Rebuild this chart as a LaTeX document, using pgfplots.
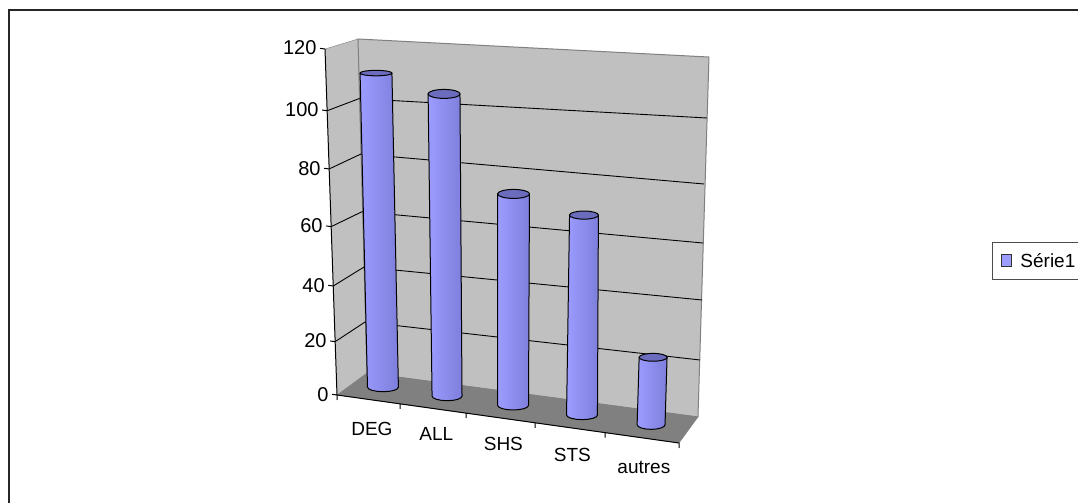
\documentclass[border=0pt]{standalone}
\usepackage{fontspec}
\setmainfont{Liberation Sans}
\usepackage{pgfplots}
\pgfplotsset{compat=1.18}

\definecolor{wall}{HTML}{C0C0C0}
\definecolor{floorc}{HTML}{808080}
\definecolor{barL}{HTML}{9C9CFF}
\definecolor{barM}{HTML}{9090F2}
\definecolor{barR}{HTML}{7E7EDC}
\definecolor{capc}{HTML}{6C6CBE}

\def\capratio{0.28}
\pgfdeclareplotmark{cap}{%
  \pgfpathellipse{\pgfpointorigin}{\pgfqpoint{\pgfplotmarksize}{0pt}}{\pgfqpoint{0pt}{\capratio\pgfplotmarksize}}%
  \pgfusepathqfillstroke}
\pgfdeclareplotmark{flatcap}{%
  \pgfpathellipse{\pgfpointorigin}{\pgfqpoint{\pgfplotmarksize}{0pt}}{\pgfqpoint{0pt}{0.17\pgfplotmarksize}}%
  \pgfusepathqfillstroke}

% base x, top x, half width base, half width top, value, cap half width (px), cap mark
\newcommand{\cyl}[7]{%
  \pgfmathsetmacro{\topy}{5+0.983*#5}%
  \pgfmathsetmacro{\xl}{#2-#4}%
  \pgfmathsetmacro{\xr}{#2+#4}%
  \pgfmathsetmacro{\yl}{\topy-3.33*#4}%
  \pgfmathsetmacro{\yr}{\topy+3.33*#4}%
  \xdef\pts{(\xl,\yl)}%
  \foreach \t in {180,202.5,...,360}{%
    \pgfmathsetmacro{\ax}{#1+#3*cos(\t)}%
    \pgfmathsetmacro{\ay}{5+3.33*#3*cos(\t)+1.6*sin(\t)}%
    \xdef\pts{\pts (\ax,\ay)}%
  }%
  \xdef\pts{\pts (\xr,\yr)}%
  \edef\tmp{\noexpand\addplot[forget plot, draw=black, line width=1pt, left color=barL, middle color=barM, right color=barR] coordinates {\pts};}%
  \tmp
  \edef\tmp{\noexpand\addplot[forget plot, only marks, mark=#7, mark size=#6pt, mark options={draw=black, fill=capc, line width=1pt}] coordinates {(#2,\topy)};}%
  \tmp
}

\begin{document}
\begin{tikzpicture}
  \useasboundingbox (0,0) rectangle (1078pt,503pt);
  \clip (0,0) rectangle (1078pt,503pt);
  \fill[white] (0,0) rectangle (1078pt,503pt);
  \draw[line width=2pt, black!85] (9pt,0pt) -- (9pt,493pt) -- (1078pt,493pt);
  \begin{axis}[
    at={(337pt,108pt)},
    anchor=origin,
    x={(68.4pt,-9.6pt)},
    y={(-0.1pt,2.883pt)},
    xmin=0, xmax=5,
    ymin=0, ymax=120,
    clip=false,
    axis on top,
    axis lines=left,
    axis line style={-, black, line width=1pt},
    tick style={black, line width=1pt},
    tick align=outside,
    major tick length=5pt,
    font=\fontsize{19}{22}\selectfont,
    /pgf/number format/assume math mode=true,
    ytick={0,18.5,37.8,58.4,78.4,98.6,120},
    yticklabels={0,20,40,60,80,100,120},
    yticklabel style={font=\fontsize{20}{22}\selectfont, yshift=-2pt},
    xtick={0,0.921,1.886,2.895,3.918,5},
    xticklabels={},
    extra x ticks={0.504,1.447,2.427,3.436,4.48},
    extra x tick labels={\rule{0pt}{17.4pt}DEG,ALL,SHS,\rule{0pt}{14.7pt}STS,\rule{0pt}{17pt}autres},
    extra x tick style={major tick length=0pt, tick style={draw=none}, xticklabel style={yshift=-15pt}},
    legend style={at={(1.884,0.462)}, anchor=west, draw=black!70, line width=1pt, font=\fontsize{19}{22}\selectfont, inner xsep=9pt, inner ysep=8.5pt},
    legend cell align=left,
    ]
    % walls and floor
    \addplot[forget plot, fill=wall, draw=floorc] coordinates {(0,0) (0.452,9.136) (0.49,125.11) (0,120)};
    \addplot[forget plot, fill=wall, draw=floorc, line width=1pt] coordinates {(0.452,9.136) (5.292,9.992) (5.637,136) (0.49,125.11) (0.452,9.136)};
    \addplot[forget plot, fill=floorc, draw=floorc] coordinates {(0,0) (5,0) (5.292,9.992) (0.452,9.136)};
    % grid lines
    \addplot[forget plot, black, line width=0.9pt] coordinates {(0,18.5) (0.449,26.81) (5.351,29.96)};
    \addplot[forget plot, black, line width=0.9pt] coordinates {(0,37.8) (0.462,45.93) (5.411,50.97)};
    \addplot[forget plot, black, line width=0.9pt] coordinates {(0,58.4) (0.461,65.11) (5.454,70.88)};
    \addplot[forget plot, black, line width=0.9pt] coordinates {(0,78.4) (0.475,85.18) (5.499,91.5)};
    \addplot[forget plot, black, line width=0.9pt] coordinates {(0,98.6) (0.474,104.36) (5.577,114.65)};
    % bars
    \cyl{0.679}{0.737}{0.227}{0.234}{111}{16}{flatcap}
    \cyl{1.616}{1.726}{0.220}{0.234}{107}{16}{cap}
    \cyl{2.581}{2.696}{0.227}{0.234}{75}{16}{cap}
    \cyl{3.589}{3.720}{0.227}{0.212}{71}{14.5}{cap}
    \cyl{4.599}{4.663}{0.205}{0.205}{24}{14}{cap}
    \addlegendimage{legend image code/.code={\path[draw=none] (0pt,0pt) -- (16.5pt,0pt); \draw[fill=barL, draw=black!80, line width=1pt] (0pt,-6pt) rectangle (9.5pt,6pt);}}
    \addlegendentry{Série1}
  \end{axis}
\end{tikzpicture}
\end{document}
